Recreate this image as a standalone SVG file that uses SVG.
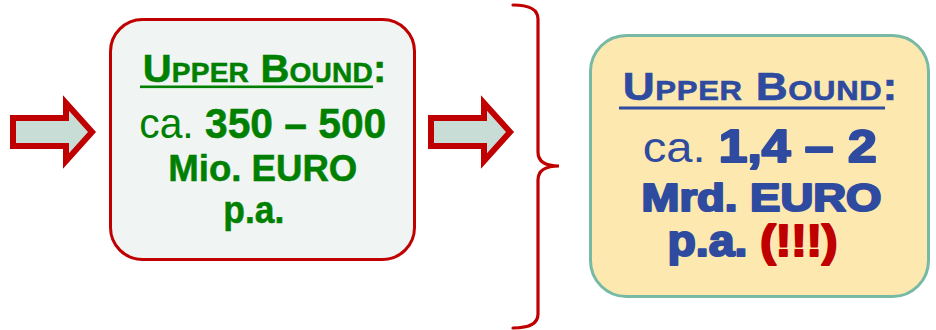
<svg xmlns="http://www.w3.org/2000/svg" width="936" height="330" viewBox="0 0 936 330">
  <style>
    .t { font-family: "Liberation Sans", Arial, sans-serif; }
    .b { font-weight: bold; }
    .green { fill: #008000; }
    .green.b { stroke: #008000; stroke-width: 0.5; }
    .blue { fill: #2e4ba0; }
    .blue.b { stroke: #2e4ba0; stroke-width: 0.6; }
    .blue.heavy { stroke-width: 2.2; stroke-linejoin: round; }
    .red { fill: #c00000; stroke: #c00000; stroke-width: 2.2; stroke-linejoin: round; }
    .big { font-size: 38.5px; }
    .sc { font-size: 27px; }
    .arrow { fill: #c8ddd5; stroke: #c00000; stroke-width: 6; stroke-linejoin: miter; }
    .brace { fill: none; stroke: #c00000; stroke-width: 3.2; stroke-linecap: round; }
  </style>
  <defs>
    <polygon id="block-arrow" points="13,118 66,118 66,103 92,132 66,161 66,146 13,146"/>
  </defs>

  <rect width="936" height="330" fill="#ffffff"/>

  <g id="connectors">
    <use id="arrow-in" href="#block-arrow" class="arrow"/>
    <use id="arrow-mid" href="#block-arrow" class="arrow" transform="translate(418,0)"/>
    <path id="brace" class="brace" d="M513,5 Q538,5 538,19 L538,152 Q538,166 559,166 Q538,166 538,180 L538,314 Q538,328 513,328"/>
  </g>

  <g id="node-low">
    <rect x="110.5" y="19.5" width="304" height="240" rx="32" fill="#f0f4f3" stroke="#c00000" stroke-width="3"/>
    <!-- small-caps heading: capitals at full size, remaining letters reduced -->
    <text class="t b green" transform="translate(142.7,82) scale(1.04,1)" letter-spacing="0.2"><tspan class="big">U</tspan><tspan class="sc">PPER</tspan><tspan class="big"> B</tspan><tspan class="sc">OUND</tspan><tspan class="big">:</tspan></text>
    <rect x="140" y="85.5" width="233" height="2.6" fill="#008000"/>
    <text class="t green" x="139.3" y="138" font-size="43" textLength="247" lengthAdjust="spacingAndGlyphs">ca. <tspan class="b green">350 – 500</tspan></text>
    <text class="t b green" x="168.3" y="181" font-size="36" textLength="189" lengthAdjust="spacingAndGlyphs">Mio. EURO</text>
    <text class="t b green" x="223.3" y="223" font-size="38" textLength="61" lengthAdjust="spacingAndGlyphs">p.a.</text>
  </g>

  <g id="node-high">
    <rect x="590.5" y="35.5" width="338" height="261" rx="36" fill="#fde9af" stroke="#76b9a5" stroke-width="3"/>
    <text class="t b blue" transform="translate(622.7,99.5) scale(1.15,1)" letter-spacing="0.6"><tspan class="big">U</tspan><tspan class="sc">PPER</tspan><tspan class="big"> B</tspan><tspan class="sc">OUND</tspan><tspan class="big">:</tspan></text>
    <rect x="619" y="106.5" width="266" height="3" fill="#2e4ba0"/>
    <text class="t blue" x="642.7" y="161.7" font-size="42" textLength="234" lengthAdjust="spacingAndGlyphs">ca. <tspan class="b blue heavy" font-size="46">1,4 – 2</tspan></text>
    <text class="t b blue heavy" x="641.5" y="210.5" font-size="39" textLength="240" lengthAdjust="spacingAndGlyphs">Mrd. EURO</text>
    <text class="t b blue heavy" x="667.5" y="255.5" font-size="44" textLength="170" lengthAdjust="spacingAndGlyphs">p.a. <tspan class="red">(!!!)</tspan></text>
  </g>
</svg>
